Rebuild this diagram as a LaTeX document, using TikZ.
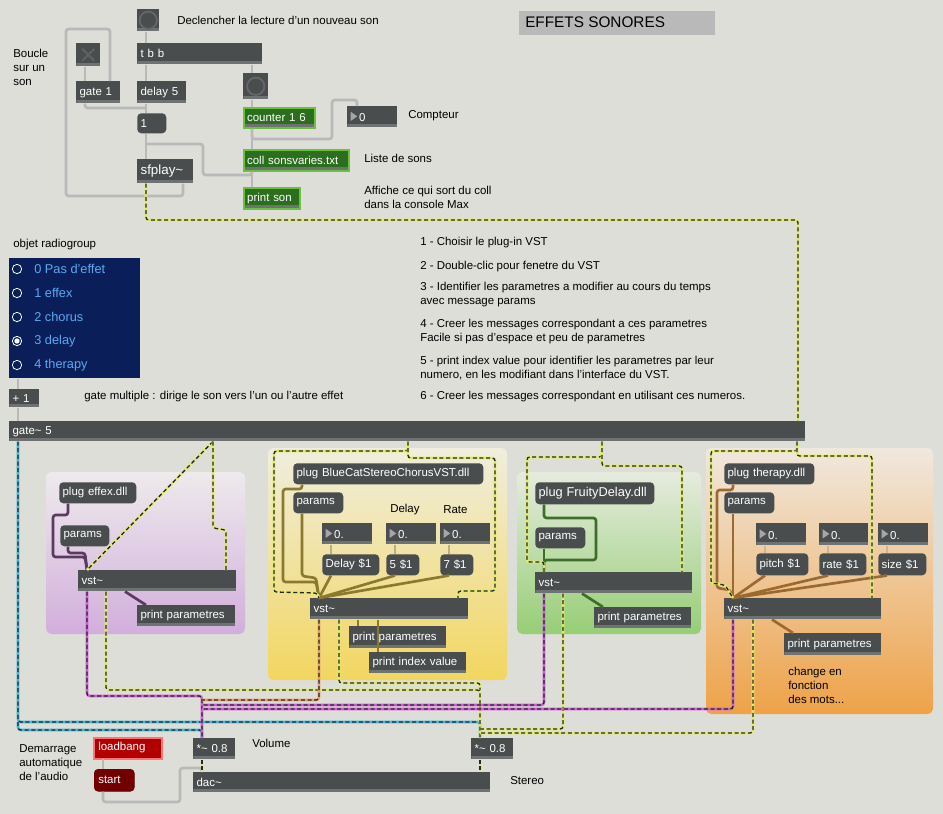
\documentclass[tikz,border=0pt]{standalone}
\usepackage{fontspec}
\setmainfont{Liberation Sans}
\usetikzlibrary{calc}
\definecolor{bgc}{HTML}{DEDED8}
\definecolor{objc}{HTML}{4A4D4D}
\definecolor{stripc}{HTML}{6E7272}
\definecolor{grc}{HTML}{2A6E1E}
\definecolor{grl}{HTML}{6CC040}
\definecolor{sY}{HTML}{E2EE6A}
\definecolor{sM}{HTML}{D060D8}
\definecolor{sC}{HTML}{40B8D8}
\definecolor{sO}{HTML}{E8A070}
\definecolor{navy}{HTML}{0A1F5A}
\definecolor{radt}{HTML}{5AA8F0}
\definecolor{cPur}{HTML}{5A3A60}
\definecolor{cOl}{HTML}{8A7A30}
\definecolor{cGr}{HTML}{3D6E2A}
\definecolor{cBr}{HTML}{9A6A30}
\newcommand\Pout[2]{($(#1.south west)+(#2,0)$)}
\newcommand\Pin[2]{($(#1.north west)+(#2,0)$)}
\newcommand\mobj[7][obj]{\pgfmathsetmacro\mw{(#4-#2)*0.75}\pgfmathsetmacro\mh{(#5-#3)*0.75}\pgfmathsetmacro\mtw{\mw-5}%
\node[#1,anchor=north west,minimum width=\mw pt,minimum height=\mh pt,text width=\mtw pt] (#6) at (#2,#3) {#7};}
\newcommand\tri{\tikz[baseline=-0.5pt]\fill[gray!70](0,0)--(0,7pt)--(5pt,3.5pt)--cycle;\,}
\tikzset{
 obj/.style={fill=objc,text=white!92,inner xsep=2.5pt,inner ysep=0pt,align=left,
  path picture={\fill[stripc] (path picture bounding box.south west) rectangle ([yshift=2.5pt]path picture bounding box.south east);}},
 msg/.style={fill=objc,text=white!92,inner xsep=2.5pt,inner ysep=0pt,align=left,rounded corners=3pt},
 gobj/.style={obj,fill=grc,draw=grl,line width=1.2pt},
 lbl/.style={anchor=west,inner sep=0pt,align=left,text=black},
 cord/.style={draw=#1,line width=2pt,rounded corners=2pt},
 cord/.default={gray!55},
 sig/.style={preaction={draw=#1,line width=1.9pt},draw=black!85,line width=1pt,dash pattern=on 3pt off 2pt,rounded corners=2pt},
}
\begin{document}
\begin{tikzpicture}[x=0.75pt,y=-0.75pt,font=\fontsize{8.6}{10.5}\selectfont]
\fill[bgc] (0,0) rectangle (943,814);
\useasboundingbox (0,0) rectangle (943,814);
% panels
\shade[top color={rgb,255:red,238;green,234;blue,236},bottom color={rgb,255:red,210;green,174;blue,220},rounded corners=4pt] (46,472) rectangle (245,634);
\shade[top color={rgb,255:red,240;green,238;blue,222},bottom color={rgb,255:red,242;green,214;blue,96},rounded corners=4pt] (268,448) rectangle (507,680);
\shade[top color={rgb,255:red,230;green,235;blue,222},bottom color={rgb,255:red,150;green,206;blue,118},rounded corners=4pt] (517,472) rectangle (701,634);
\shade[top color={rgb,255:red,240;green,232;blue,222},bottom color={rgb,255:red,238;green,162;blue,72},rounded corners=4pt] (706,448) rectangle (933,714);
% title
\node[fill=gray!55,minimum width=147pt,minimum height=18pt,anchor=north west,inner sep=0pt] (title) at (519,11) {};
\node[lbl,font=\fontsize{11.5}{13}\selectfont] (titlet) at (525,22) {EFFETS SONORES};
% top section
\mobj{137}{9}{159}{31}{bang1}{}
\draw[gray!80!black,line width=1.4pt] (bang1.center) circle (6.5pt);
\node[lbl] (t1) at (177,20) {Declencher la lecture d'un nouveau son};
\mobj{137}{43}{262}{64}{tbb}{t b b}
\mobj{76}{43}{100}{66}{toggle}{}
\draw[gray!75!black,line width=1.6pt] ($(toggle.center)+(-6,-6)$) -- ($(toggle.center)+(6,6)$) ($(toggle.center)+(-6,6)$) -- ($(toggle.center)+(6,-6)$);
\mobj{76}{81}{120}{103}{gate1}{gate 1}
\mobj{137}{81}{186}{103}{delay}{delay 5}
\mobj[msg]{137}{113}{166}{133}{one}{1}
\mobj{137}{159}{193}{183}{sfplay}{\fontsize{10}{12}\selectfont sfplay\textasciitilde}
\mobj{243}{73}{268}{99}{bang2}{}
\draw[gray!80!black,line width=1.4pt] (bang2.center) circle (6.5pt);
\mobj[gobj]{243}{107}{314}{127}{counter}{counter 1 6}
\mobj{347}{106}{397}{127}{num0}{\tri 0}
\node[lbl] (t2) at (408,116) {Compteur};
\mobj[gobj]{243}{149}{348}{170}{coll}{coll sonsvaries.txt}
\node[lbl] (t3) at (364,158) {Liste de sons};
\mobj[gobj]{243}{187}{299}{208}{printson}{print son}
\node[lbl] (t4) at (364,197) {Affiche ce qui sort du coll\\dans la console Max};
\node[lbl] (t5) at (13,67) {Boucle\\sur un\\son};
% top cords
\draw[cord] \Pout{bang1}{9} -- \Pin{tbb}{9};
\draw[cord] \Pout{sfplay}{46} -- (183,196) -- (66,196) -- (66,29) -- (110,29) -- \Pin{gate1}{34};
\draw[cord] \Pout{toggle}{9} -- \Pin{gate1}{9};
\draw[cord] \Pout{gate1}{9} -- (85,108) -- (146,108);
\draw[cord] \Pout{tbb}{9} -- \Pin{delay}{9};
\draw[cord] \Pout{delay}{9} -- \Pin{one}{9};
\draw[cord] \Pout{one}{9} -- \Pin{sfplay}{9};
\draw[cord] \Pout{coll}{9} -- (252,175) -- (203,175) -- (203,144) -- (146,144);
\draw[cord] \Pout{tbb}{115} -- \Pin{bang2}{9};
\draw[cord] \Pout{bang2}{9} -- \Pin{counter}{9};
\draw[cord] \Pout{counter}{9} -- \Pin{coll}{9};
\draw[cord] \Pout{counter}{9} -- (252,139) -- (332,139) -- (332,100) -- (357,100) -- \Pin{num0}{10};
\draw[cord] \Pout{coll}{9} -- \Pin{printson}{9};
% radiogroup
\node[lbl] (t6) at (13,245) {objet radiogroup};
\node[fill=navy,anchor=north west,minimum width=98pt,minimum height=90pt,inner sep=0pt] (radio) at (9,258) {};
\foreach \i/\s in {0/0 Pas d'effet,1/1 effex,2/2 chorus,3/3 delay,4/4 therapy}{
  \draw[white!85,line width=0.6pt] (17,269+24*\i) circle (3.5pt);
  \node[lbl,text=radt,font=\fontsize{9.6}{11}\selectfont] at (34,269+24*\i) {\s};
}
\fill[white] (17,341) circle (2pt);
\mobj{9}{389}{39}{407}{plus}{+ 1}
\node[lbl] (t7) at (84,397) {gate multiple : dirige le son vers l'un ou l'autre effet};
\node[lbl] (l1) at (420,243) {1 - Choisir le plug-in VST};
\node[lbl] (l2) at (420,267) {2 - Double-clic pour fenetre du VST};
\node[lbl] (l3) at (420,295) {3 - Identifier les parametres a modifier au cours du temps\\avec message params};
\node[lbl] (l4) at (420,332) {4 - Creer les messages correspondant a ces parametres\\Facile si pas d'espace et peu de parametres};
\node[lbl] (l5) at (420,368) {5 - print index value pour identifier les parametres par leur\\numero, en les modifiant dans l'interface du VST.};
\node[lbl] (l6) at (420,397) {6 - Creer les messages correspondant en utilisant ces numeros.};
\mobj{9}{421}{805}{441}{gate}{gate\textasciitilde{} 5}
\draw[cord] \Pout{radio}{9} -- \Pin{plus}{9};
\draw[cord] \Pout{plus}{9} -- \Pin{gate}{9};
\draw[sig=sY] \Pout{sfplay}{9} -- (146,220) -- (798,220) -- \Pin{gate}{789};
% effex
\mobj[msg]{59}{482}{136}{503}{plugA}{plug effex.dll}
\mobj[msg]{60}{525}{109}{546}{paramsA}{params}
\mobj{78}{570}{236}{591}{vstA}{vst\textasciitilde}
\mobj{137}{605}{235}{626}{printA}{print parametres}
\draw[cord=cPur] \Pout{plugA}{9} -- (68,515) -- (53,515) -- (53,557) -- (85,557) -- \Pin{vstA}{9};
\draw[cord=cPur] \Pout{paramsA}{8} -- (68,553) -- (85,553) -- \Pin{vstA}{9};
\draw[cord=cPur] \Pout{vstA}{47} -- \Pin{printA}{9};
\draw[sig=sY] \Pout{gate}{204} -- \Pin{vstA}{9};
\draw[sig=sY] \Pout{gate}{204} -- (213,528) -- (226,530) -- \Pin{vstA}{148};
% chorus
\mobj[msg]{293}{463}{483}{484}{plugB}{plug BlueCatStereoChorusVST.dll}
\mobj[msg]{293}{492}{343}{513}{paramsB}{params}
\node[lbl] (tD) at (390,510) {Delay};
\node[lbl] (tR) at (443,510) {Rate};
\mobj{322}{523}{372}{544}{nB1}{\tri 0.}
\mobj{386}{523}{436}{544}{nB2}{\tri 0.}
\mobj{440}{523}{490}{544}{nB3}{\tri 0.}
\mobj[msg]{322}{554}{379}{575}{mB1}{Delay \$1}
\mobj[msg]{386}{554}{419}{575}{mB2}{5 \$1}
\mobj[msg]{440}{554}{473}{575}{mB3}{7 \$1}
\mobj{310}{598}{468}{619}{vstB}{vst\textasciitilde}
\mobj{349}{626}{446}{648}{printB}{print parametres}
\mobj{369}{652}{466}{673}{printB2}{print index value}
\draw[cord={cOl!60}] \Pout{nB1}{9} -- \Pin{mB1}{9};
\draw[cord={cOl!60}] \Pout{nB2}{9} -- \Pin{mB2}{9};
\draw[cord={cOl!60}] \Pout{nB3}{9} -- \Pin{mB3}{9};
\draw[cord=cOl] \Pout{plugB}{9} -- (302,489) -- (283,489) -- (283,582) -- (316,582) -- \Pin{vstB}{9};
\draw[cord=cOl] \Pout{paramsB}{9} -- (302,576) -- (316,578) -- \Pin{vstB}{9};
\draw[cord=cOl] \Pout{mB1}{9} -- \Pin{vstB}{9};
\draw[cord=cOl] \Pout{mB2}{9} -- \Pin{vstB}{9};
\draw[cord=cOl] \Pout{mB3}{9} -- \Pin{vstB}{9};
\draw[cord=cOl] \Pout{vstB}{48} -- \Pin{printB}{9};
\draw[cord=cOl] \Pout{vstB}{68} -- \Pin{printB2}{9};
\draw[sig=sY] \Pout{gate}{399} -- (408,451) -- (274,451) -- (274,592) -- (317,593) -- \Pin{vstB}{9};
\draw[sig=sY] \Pout{gate}{399} -- (408,458) -- (495,458) -- (495,591) -- (458,591) -- \Pin{vstB}{148};
% fruity
\mobj[msg]{535}{482}{654}{504}{plugC}{\fontsize{9.6}{11}\selectfont plug FruityDelay.dll}
\mobj[msg]{535}{527}{585}{548}{paramsC}{params}
\mobj{535}{572}{692}{593}{vstC}{vst\textasciitilde}
\mobj{594}{607}{691}{628}{printC}{print parametres}
\draw[cord=cGr] \Pout{plugC}{9} -- (544,518) -- (596,518) -- (596,560) -- (544,560) -- \Pin{vstC}{9};
\draw[cord=cGr] \Pout{paramsC}{9} -- \Pin{vstC}{9};
\draw[cord=cGr] \Pout{vstC}{47} -- \Pin{printC}{9};
\draw[sig=sY] \Pout{gate}{593} -- (602,457) -- (527,457) -- (527,562) -- (544,562) -- \Pin{vstC}{9};
\draw[sig=sY] \Pout{gate}{593} -- (602,466) -- (682,466) -- \Pin{vstC}{147};
% therapy
\mobj[msg]{724}{463}{814}{484}{plugD}{plug therapy.dll}
\mobj[msg]{724}{492}{774}{513}{paramsD}{params}
\mobj{756}{523}{806}{545}{nD1}{\tri 0.}
\mobj{819}{523}{868}{545}{nD2}{\tri 0.}
\mobj{878}{523}{928}{545}{nD3}{\tri 0.}
\mobj[msg]{756}{553}{808}{575}{mD1}{pitch \$1}
\mobj[msg]{819}{553}{866}{575}{mD2}{rate \$1}
\mobj[msg]{878}{553}{926}{575}{mD3}{size \$1}
\mobj{724}{598}{881}{619}{vstD}{vst\textasciitilde}
\mobj{784}{633}{881}{655}{printD}{print parametres}
\node[lbl] (tch) at (788,685) {change en\\fonction\\des mots...};
\draw[cord={cBr!50}] \Pout{nD1}{9} -- \Pin{mD1}{9};
\draw[cord={cBr!50}] \Pout{nD2}{9} -- \Pin{mD2}{9};
\draw[cord={cBr!50}] \Pout{nD3}{9} -- \Pin{mD3}{9};
\draw[cord=cBr] \Pout{plugD}{9} -- (733,490) -- (717,490) -- (717,588) -- (730,590) -- \Pin{vstD}{9};
\draw[cord=cBr] \Pout{paramsD}{9} -- \Pin{vstD}{9};
\draw[cord=cBr] \Pout{mD1}{9} -- \Pin{vstD}{9};
\draw[cord=cBr] \Pout{mD2}{9} -- \Pin{vstD}{9};
\draw[cord=cBr] \Pout{mD3}{9} -- \Pin{vstD}{9};
\draw[cord=cBr] \Pout{vstD}{48} -- \Pin{printD}{9};
\draw[sig=sY] \Pout{gate}{788} -- (797,451) -- (711,451) -- (711,583) -- (725,585) -- \Pin{vstD}{9};
\draw[sig=sY] \Pout{gate}{788} -- (797,456) -- (872,456) -- \Pin{vstD}{148};
% bottom
\mobj{193}{738}{235}{759}{mulL}{*\textasciitilde{} 0.8}
\mobj{471}{738}{513}{759}{mulR}{*\textasciitilde{} 0.8}
\node[lbl] (tV) at (252,743) {Volume};
\mobj{193}{772}{490}{792}{dac}{dac\textasciitilde}
\node[lbl] (tS) at (510,781) {Stereo};
\mobj[obj]{94}{738}{161}{758}{loadbang}{loadbang}
\fill[red!70!black] (loadbang.north west) rectangle (loadbang.south east);
\draw[red!55!white,line width=1.5pt] (loadbang.north west) rectangle (loadbang.south east);
\node[lbl,text=white!92] (lbt) at (98,748) {loadbang};
\mobj[msg]{94}{769}{134}{791}{start}{start}
\fill[red!45!black,rounded corners=3pt] (start.north west) rectangle (start.south east);
\node[lbl,text=white!92] (stt) at (98,780) {start};
\node[lbl] (tA) at (19,763) {Demarrage\\automatique\\de l'audio};
\draw[cord] \Pout{loadbang}{9} -- \Pin{start}{9};
\draw[cord] \Pout{start}{9} -- (103,802) -- (180,802) -- (180,768) -- (202,768) -- \Pin{dac}{9};
% audio
\draw[sig=sC] \Pout{gate}{9} -- (18,722) -- (480,722) -- \Pin{mulR}{9};
\draw[sig=sC] (18,722) -- (18,730) -- (202,730) -- \Pin{mulL}{9};
\draw[sig=sM] \Pout{vstA}{9} -- (87,696) -- (202,696) -- \Pin{mulL}{9};
\draw[sig=sY] \Pout{vstA}{28} -- (106,690) -- (480,690) -- \Pin{mulR}{9};
\draw[sig=sO] \Pout{vstB}{9} -- (319,700) -- (202,700);
\draw[sig=sY] \Pout{vstB}{29} -- (339,683) -- (480,683) -- (480,690);
\draw[sig=sM] \Pout{vstC}{9} -- (544,705) -- (202,705);
\draw[sig=sY] \Pout{vstC}{28} -- (563,729) -- (480,729);
\draw[sig=sM] \Pout{vstD}{9} -- (733,709) -- (202,709);
\draw[sig=sY] \Pout{vstD}{29} -- (753,733) -- (480,733);
\draw[sig=sY] \Pout{mulL}{9} -- \Pin{dac}{9};
\draw[sig=sY] \Pout{mulR}{9} -- \Pin{dac}{287};
\end{tikzpicture}
\end{document}
